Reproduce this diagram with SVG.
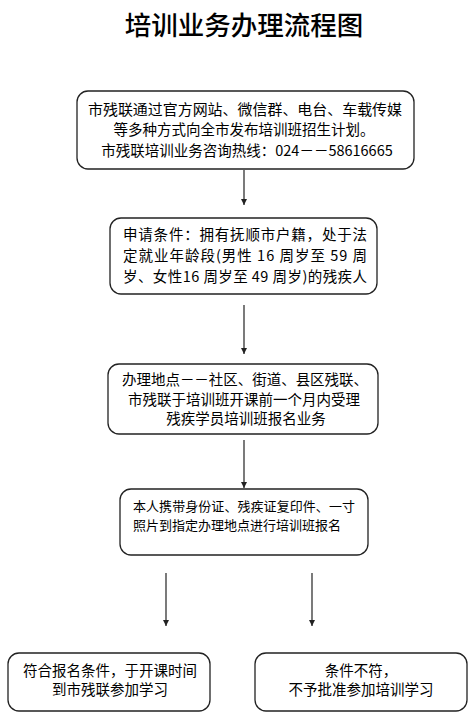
<svg xmlns="http://www.w3.org/2000/svg" width="475" height="718" viewBox="0 0 475 718">
<style>
text{font-family:"Noto Sans CJK SC","Liberation Sans",sans-serif;fill:#000;}
.t{font-size:14.5px;}
.s{font-size:13px;}
.c{text-anchor:middle;}
.box{fill:#fff;stroke:#222;stroke-width:1.3;}
.ln{stroke:#222;stroke-width:1.2;fill:none;marker-end:url(#ah);}
</style>
<defs>
<marker id="ah" markerWidth="8" markerHeight="8" refX="6" refY="4" orient="auto" markerUnits="userSpaceOnUse">
<path d="M0,1 L6,4 L0,7 Z" fill="#222"/>
</marker>
</defs>
<rect width="475" height="718" fill="#fff"/>
<text id="title" x="244" y="35" class="c" style="font-size:26.5px;font-weight:500">培训业务办理流程图</text>
<g id="connectors">
<line class="ln" x1="244" y1="170" x2="244" y2="205"/>
<line class="ln" x1="244" y1="305" x2="244" y2="354"/>
<line class="ln" x1="244" y1="440" x2="244" y2="488"/>
<line class="ln" x1="166" y1="573" x2="166" y2="626"/>
<line class="ln" x1="312" y1="573" x2="312" y2="626"/>
</g>
<g id="n1">
<rect class="box" x="77" y="91" width="337" height="78" rx="11"/>
<text class="t c" x="245" y="115" textLength="314" lengthAdjust="spacingAndGlyphs">市残联通过官方网站、微信群、电台、车载传媒</text>
<text class="t c" x="244" y="135">等多种方式向全市发布培训班招生计划。</text>
<text class="t c" x="247" y="156">市残联培训业务咨询热线：024－－58616665</text>
</g>
<g id="n2">
<rect class="box" x="110" y="218" width="267" height="76" rx="11"/>
<text class="t c" x="245" y="240" textLength="244" lengthAdjust="spacing">申请条件：拥有抚顺市户籍，处于法</text>
<text class="t c" x="245" y="261" textLength="244" lengthAdjust="spacing">定就业年龄段(男性 16 周岁至 59 周</text>
<text class="t c" x="245" y="282" textLength="244" lengthAdjust="spacing">岁、女性16 周岁至 49 周岁)的残疾人</text>
</g>
<g id="n3">
<rect class="box" x="108" y="364" width="270" height="70" rx="11"/>
<text class="t c" x="245" y="385" textLength="246" lengthAdjust="spacing">办理地点－－社区、街道、县区残联、</text>
<text class="t c" x="244" y="405">市残联于培训班开课前一个月内受理</text>
<text class="t c" x="246" y="424">残疾学员培训班报名业务</text>
</g>
<g id="n4">
<rect class="box" x="120" y="489" width="248" height="66" rx="11"/>
<text class="s" x="133" y="511" textLength="222" lengthAdjust="spacing">本人携带身份证、残疾证复印件、一寸</text>
<text class="s" x="133" y="530">照片到指定办理地点进行培训班报名</text>
</g>
<g id="n5">
<rect class="box" x="8" y="653" width="202" height="58" rx="11"/>
<text class="t c" x="110" y="676">符合报名条件，于开课时间</text>
<text class="t c" x="110" y="695">到市残联参加学习</text>
</g>
<g id="n6">
<rect class="box" x="255" y="653" width="212" height="58" rx="11"/>
<text class="t c" x="361" y="676">条件不符，</text>
<text class="t c" x="361" y="695">不予批准参加培训学习</text>
</g>
</svg>
